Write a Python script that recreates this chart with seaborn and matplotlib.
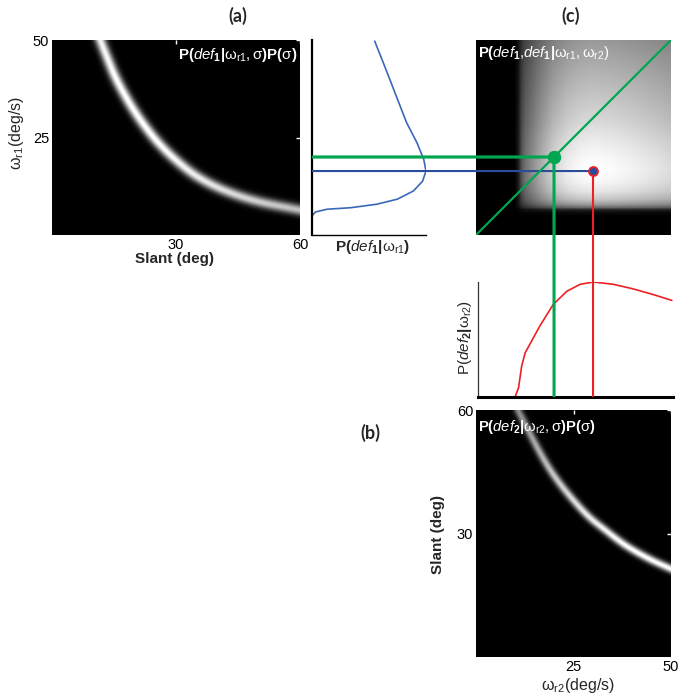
import numpy as np
import pandas as pd
import matplotlib
matplotlib.use("Agg")
import matplotlib.pyplot as plt
import seaborn as sns
from matplotlib.patches import ConnectionPatch

# ---------------- data ----------------
# (a) ridge of P(def1|wr1,sigma)P(sigma)
ridge_a_slant = [11.6, 13.2, 15.2, 17.3, 19.7, 22.5, 25.7, 29.8, 35.0, 41.4, 49.5, 60.0]
ridge_a_omega = [50.2, 45.9, 40.8, 36.5, 32.2, 27.9, 23.7, 19.4, 15.1, 11.6, 8.7, 6.4]
ridge_a_gain = [0.95, 0.97, 1.0, 1.0, 1.0, 1.0, 1.0, 0.97, 0.93, 0.88, 0.82, 0.75]

# likelihood P(def1|wr1) (blue curve)
like1_omega = [0, 4.9, 5.9, 6.6, 7.0, 7.9, 9.2, 11.3, 13.8, 16.4, 19.4, 23.7,
               28.8, 34.8, 41.6, 49.7]
like1_p = [0, 0, 0.03, 0.13, 0.34, 0.57, 0.75, 0.89, 0.97, 1.0, 0.98, 0.92,
           0.83, 0.75, 0.66, 0.55]

# likelihood P(def2|wr2) (red curve)
like2_omega = [0.5, 10.0, 10.9, 11.7, 12.6, 14.3, 16.4, 19.8, 23.3, 26.7, 30.1,
               35.2, 40.3, 45.5, 50.2]
like2_p = [0, 0, 0.08, 0.27, 0.385, 0.49, 0.62, 0.805, 0.92, 0.98, 1.0,
           0.98, 0.94, 0.89, 0.84]

# (b) ridge of P(def2|wr2,sigma)P(sigma)
ridge_b_omega = [10.8, 13.6, 16.8, 20.0, 23.9, 28.6, 33.2, 38.4, 44.3, 50.0]
ridge_b_slant = [59.9, 54.7, 49.0, 44.1, 39.3, 34.4, 30.8, 27.1, 23.9, 21.4]
ridge_b_gain = [0.55, 0.62, 0.70, 0.78, 0.85, 0.92, 0.96, 1.0, 1.0, 1.0]

# estimates
green_pt = (20.0, 20.0)     # (wr2, wr1) on the diagonal
ml_pt = (30.0, 16.4)        # (wr2, wr1) maximum likelihood

a_xticks, a_yticks = [30, 60], [25, 50]
b_xticks, b_yticks = [25, 50], [30, 60]

# ---------------- style ----------------
sns.set_theme(style="white")
plt.rcParams["font.family"] = ["Liberation Sans", "DejaVu Sans"]
plt.rcParams["mathtext.fontset"] = "custom"
plt.rcParams["mathtext.rm"] = "Liberation Sans"
plt.rcParams["mathtext.it"] = "Liberation Sans:italic"
plt.rcParams["mathtext.bf"] = "Liberation Sans:bold"

GREEN = "#00a651"
BLUE_LINE = "#2a4d9b"
BLUE_CURVE = "#3a68b8"
RED = "#ed2024"

W, H = 679, 696
fig = plt.figure(figsize=(W / 100, H / 100), dpi=100)


def box(x0, x1, y0, y1):
    return [x0 / W, 1 - y1 / H, (x1 - x0) / W, (y1 - y0) / H]


def smooth_path(px, py, gains, n=60):
    """Catmull-Rom path through the read ridge points (rendering only)."""
    P = np.column_stack([px, py])
    G = np.asarray(gains, float)
    P = np.vstack([2 * P[0] - P[1], P, 2 * P[-1] - P[-2]])
    pts, gs = [], []
    t = np.linspace(0, 1, n, endpoint=False)[:, None]
    for i in range(1, len(P) - 2):
        p0, p1, p2, p3 = P[i - 1], P[i], P[i + 1], P[i + 2]
        seg = 0.5 * (2 * p1 + (-p0 + p2) * t + (2 * p0 - 5 * p1 + 4 * p2 - p3) * t ** 2
                     + (-p0 + 3 * p1 - 3 * p2 + p3) * t ** 3)
        pts.append(seg)
        gs.append(G[i - 1] * (1 - t[:, 0]) + G[i] * t[:, 0])
    pts.append(P[-2][None])
    gs.append([G[-1]])
    return np.vstack(pts), np.concatenate(gs)


def ridge_image(nx, ny, xr, yr, rx, ry, gains, sd):
    sx, sy = nx / xr, ny / yr
    xc = (np.arange(nx) + 0.5) * xr / nx * sx
    yc = (np.arange(ny)[::-1] + 0.5) * yr / ny * sy
    X, Y = np.meshgrid(xc, yc)
    path, g = smooth_path(np.asarray(rx) * sx, np.asarray(ry) * sy, gains)
    best = np.full(X.shape, np.inf)
    gbest = np.zeros(X.shape)
    for (a, b), gg in zip(path, g):
        d = (X - a) ** 2 + (Y - b) ** 2
        m = d < best
        best[m] = d[m]
        gbest[m] = gg
    return gbest * np.exp(-0.5 * best / sd ** 2)


def draw_heat(img, pos):
    ax = fig.add_axes(pos)
    sns.heatmap(pd.DataFrame(img), ax=ax, cmap="gray", vmin=0, vmax=1,
                cbar=False, xticklabels=False, yticklabels=False, rasterized=True)
    ax.set_axis_off()
    ov = fig.add_axes(pos, facecolor="none")
    for s in ov.spines.values():
        s.set_visible(False)
    return ov


def style_ticks(ov):
    ov.tick_params(direction="in", color="white", labelcolor="black", length=3,
                   width=1, top=True, right=True, labeltop=False, labelright=False,
                   labelsize=10.5, pad=2)


# ---------------- (a) heatmap ----------------
pos_a = box(52, 300, 40, 235)
img_a = ridge_image(248, 195, 60, 50, ridge_a_slant, ridge_a_omega, ridge_a_gain, 3.8)
ov_a = draw_heat(img_a, pos_a)
ov_a.set_xlim(0, 60)
ov_a.set_ylim(0, 50)
ov_a.set_xticks(a_xticks)
ov_a.set_yticks(a_yticks)
style_ticks(ov_a)
ov_a.set_xlabel("Slant (deg)", fontsize=11, fontweight="bold")
ov_a.xaxis.label.set_va("center")
ov_a.xaxis.set_label_coords(0.492, -0.122)
ov_a.set_ylabel(r"$\mathrm{\omega_{r1}(deg/s)}$", fontsize=11.5)
ov_a.yaxis.label.set_va("center")
ov_a.yaxis.set_label_coords(-0.145, 0.523)
ov_a.text(0.988, 0.923,
          r"$\mathbf{P(}\mathit{def}_\mathbf{1}\mathbf{|}\mathrm{\omega_{r1}},\mathrm{\sigma}\mathbf{)P(}\mathrm{\sigma}\mathbf{)}$",
          transform=ov_a.transAxes, ha="right", va="center", color="white", fontsize=10.8)

# ---------------- middle: P(def1|wr1) ----------------
ax_m = fig.add_axes(box(312, 426, 40, 235))
ax_m.set_facecolor("none")
sns.lineplot(x=like1_p, y=like1_omega, orient="y", sort=False, estimator=None,
             color=BLUE_CURVE, lw=1.2, ax=ax_m)
ax_m.set_xlim(0, 1.0)
ax_m.set_ylim(0, 50)
ax_m.set_xticks([])
ax_m.set_yticks([])
ax_m.spines["top"].set_visible(False)
ax_m.spines["right"].set_visible(False)
ax_m.spines["left"].set_color("black")
ax_m.spines["left"].set_linewidth(1.6)
ax_m.spines["bottom"].set_color("black")
ax_m.spines["bottom"].set_linewidth(1.0)
ax_m.set_xlabel(r"$\mathbf{P(}\mathit{def}_\mathbf{1}\mathbf{|}\mathrm{\omega_{r1}}\mathbf{)}$", fontsize=11)
ax_m.xaxis.label.set_va("center")
ax_m.xaxis.set_label_coords(0.535, -0.06)

# ---------------- (c) joint heatmap ----------------
pos_c = box(476, 671, 40, 235)
n_c = 195
w_grid = (np.arange(n_c) + 0.5) * 50 / n_c
f1 = np.interp(w_grid[::-1], like1_omega, like1_p)   # rows: wr1 (top = 50)
f2 = np.interp(w_grid, like2_omega, like2_p)         # cols: wr2
img_c = np.outer(f1, f2) ** 0.85
ov_c = draw_heat(img_c, pos_c)
ov_c.set_xlim(0, 50)
ov_c.set_ylim(0, 50)
ov_c.set_xticks([])
ov_c.set_yticks([])
diag = [0, 50]
sns.lineplot(x=diag, y=diag, color=GREEN, lw=1.6, ax=ov_c)
ov_c.text(0.01, 0.933,
          r"$\mathbf{P(}\mathit{def}_\mathbf{1}\mathrm{,}\mathit{def}_\mathbf{1}\mathbf{|}\mathrm{\omega_{r1}},\mathrm{\omega_{r2}}\mathrm{)}$",
          transform=ov_c.transAxes, ha="left", va="center", color="white", fontsize=10.6)

# ---------------- red: P(def2|wr2) ----------------
ax_r = fig.add_axes(box(478, 673, 282, 397))
ax_r.set_facecolor("none")
sns.lineplot(x=like2_omega, y=like2_p, color=RED, lw=1.2, ax=ax_r, estimator=None)
ax_r.set_xlim(0.5, 50.5)
ax_r.set_ylim(0, 1.0)
ax_r.set_xticks([])
ax_r.set_yticks([])
ax_r.spines["top"].set_visible(False)
ax_r.spines["right"].set_visible(False)
ax_r.spines["left"].set_color("#333333")
ax_r.spines["left"].set_linewidth(0.9)
ax_r.spines["bottom"].set_color("black")
ax_r.spines["bottom"].set_linewidth(2.2)
ax_r.set_ylabel(r"$\mathrm{P(}\mathit{def}_\mathbf{2}\mathbf{|}\mathrm{\omega_{r2}}\mathrm{)}$", fontsize=11)
ax_r.yaxis.label.set_va("center")
ax_r.yaxis.set_label_coords(-0.067, 0.52)

# ---------------- (b) heatmap ----------------
pos_b = box(476, 671, 410, 657)
img_b = ridge_image(195, 247, 50, 60, ridge_b_omega, ridge_b_slant, ridge_b_gain, 2.9)
ov_b = draw_heat(img_b, pos_b)
ov_b.set_xlim(0, 50)
ov_b.set_ylim(0, 60)
ov_b.set_xticks(b_xticks)
ov_b.set_yticks(b_yticks)
style_ticks(ov_b)
ov_b.set_ylabel("Slant (deg)", fontsize=11, fontweight="bold")
ov_b.yaxis.label.set_va("center")
ov_b.yaxis.set_label_coords(-0.195, 0.494)
ov_b.set_xlabel(r"$\mathrm{\omega_{r2}(deg/s)}$", fontsize=11.5)
ov_b.xaxis.label.set_va("center")
ov_b.xaxis.set_label_coords(0.523, -0.115)
ov_b.text(0.01, 0.931,
          r"$\mathbf{P(}\mathit{def}_\mathbf{2}\mathbf{|}\mathrm{\omega_{r2}},\mathrm{\sigma}\mathbf{)P(}\mathrm{\sigma}\mathbf{)}$",
          transform=ov_b.transAxes, ha="left", va="center", color="white", fontsize=10.6)

# ---------------- connecting lines ----------------
def connect(xyA, axA, xyB, axB, color, lw):
    con = ConnectionPatch(xyA=xyA, coordsA=axA.transData, xyB=xyB, coordsB=axB.transData,
                          color=color, lw=lw, zorder=3, capstyle="butt")
    fig.add_artist(con)

connect((0, green_pt[1]), ax_m, green_pt, ov_c, GREEN, 2.3)
connect((0, ml_pt[1]), ax_m, ml_pt, ov_c, BLUE_LINE, 1.5)
connect(green_pt, ov_c, (green_pt[0], 0), ax_r, GREEN, 2.2)
connect(ml_pt, ov_c, (ml_pt[0], 0), ax_r, RED, 1.5)

# dots on top
ov_c.set_zorder(5)
sns.scatterplot(x=[green_pt[0]], y=[green_pt[1]], s=80, color=GREEN, edgecolor=GREEN,
                ax=ov_c, zorder=6, clip_on=False)
sns.scatterplot(x=[ml_pt[0]], y=[ml_pt[1]], s=42, color=BLUE_LINE, edgecolor=RED,
                linewidth=1.3, ax=ov_c, zorder=6, clip_on=False)

# ---------------- panel letters ----------------
for lab, (px, py) in {"(a)": (238, 16), "(c)": (571, 16), "(b)": (370, 433)}.items():
    fig.text(px / W, 1 - py / H, lab, ha="center", va="center", fontsize=13,
             fontweight="bold", family=["Lato", "DejaVu Sans"])

fig.savefig("out.png", dpi=100)
